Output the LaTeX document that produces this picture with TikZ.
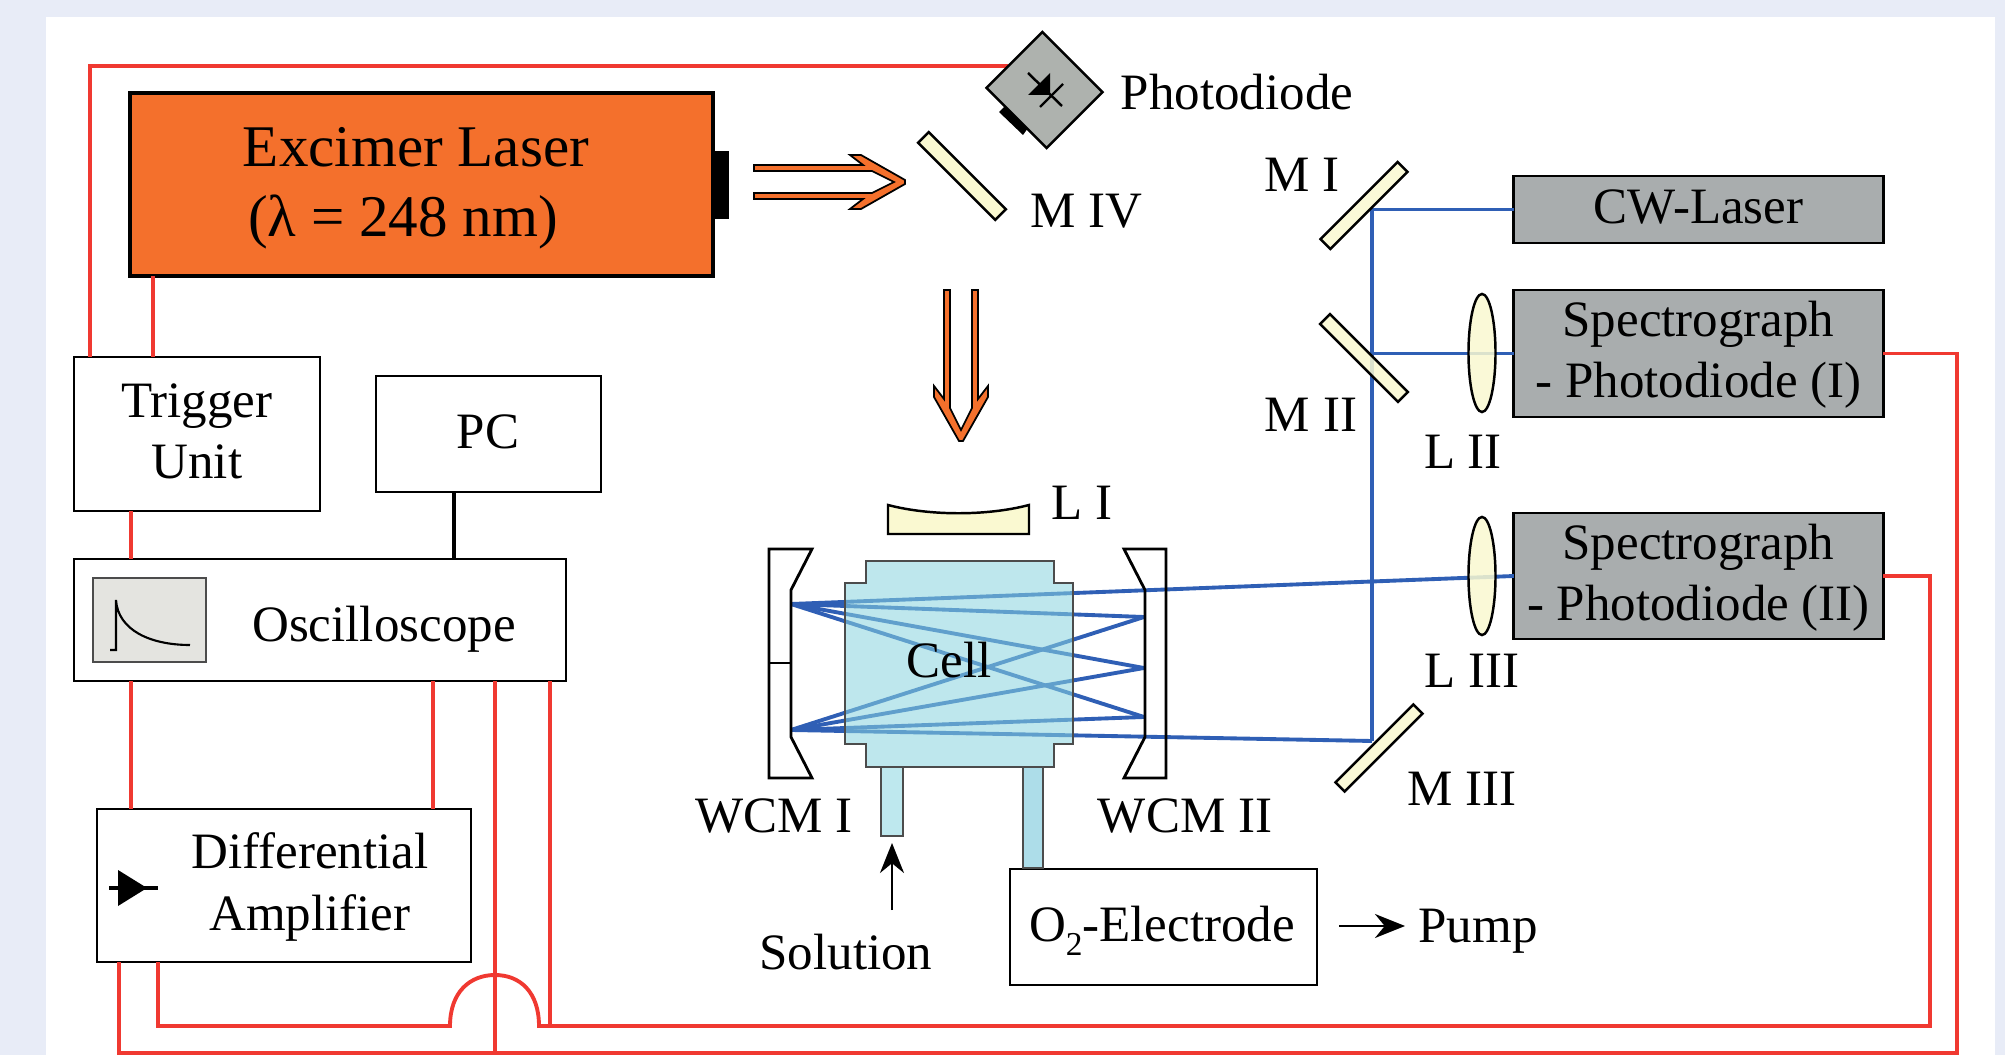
\documentclass[tikz,border=0pt]{standalone}
\usepackage{fontspec}
\setmainfont{Liberation Serif}
\usetikzlibrary{arrows.meta,shapes.geometric}
\definecolor{colbg}{rgb}{0.910, 0.925, 0.969}
\definecolor{collaser}{rgb}{0.957, 0.439, 0.173}
\definecolor{colgrey}{rgb}{0.663, 0.678, 0.682}
\definecolor{coldiode}{rgb}{0.682, 0.698, 0.682}
\definecolor{colscreen}{rgb}{0.894, 0.894, 0.878}
\definecolor{colwire}{rgb}{0.941, 0.224, 0.192}
\definecolor{colbeam}{rgb}{0.184, 0.373, 0.710}
\definecolor{colglass}{rgb}{0.980, 0.976, 0.820}
\definecolor{colcell}{rgb}{0.537, 0.835, 0.878}
\definecolor{coltube}{rgb}{0.678, 0.867, 0.914}
\tikzset{
  box/.style={draw,fill=white,line width=0.6pt,inner sep=0pt,outer sep=0pt,align=center,
    font=\fontsize{14.5}{17.4}\selectfont},
  greybox/.style={box,fill=colgrey,line width=0.8pt},
  txt/.style={inner sep=0pt,outer sep=0pt,align=center,font=\fontsize{14.5}{17.4}\selectfont},
  bigtxt/.style={inner sep=0pt,outer sep=0pt,font=\fontsize{16.8}{20}\selectfont},
  wire/.style={colwire,line width=1.1pt},
  beam/.style={colbeam,line width=1.1pt},
  mirror/.style={draw,fill=colglass,fill opacity=0.85,line width=0.7pt,inner sep=0pt,outer sep=0pt},
  lens/.style={ellipse,mirror,minimum width=0.27cm,minimum height=1.18cm},
  glass/.style={draw=black!70,line width=0.7pt},
  wcm/.style={draw,line width=0.8pt}
}
\newcommand{\beamarrow}{%
  \draw[fill=collaser,line width=0.5pt] (0,-17) -- (109,-17) -- (96,-27) -- (96,-27) -- (107,-27) -- (151,-2)
    -- (151,2) -- (107,27) -- (96,27) -- (109,17) -- (0,17) -- (0,11) -- (118,11) -- (140,0) -- (118,-11)
    -- (0,-11) -- cycle;}
\begin{document}
\begin{tikzpicture}[x=0.01cm,y=-0.01cm]
    \useasboundingbox (0,0) rectangle (2005,1055);
    \fill[colbg] (0,0) rectangle (2005,1055);
    \fill[white] (46,17) rectangle (1995,1055);
    % wire columns and rows
    \coordinate (cola) at (90,66);
    \coordinate (colb) at (131,1026);
    \coordinate (colc) at (153,0);
    \coordinate (cold) at (119,1053);
    \coordinate (cole) at (158,1026);
    \coordinate (colf) at (433,0);
    \coordinate (colg) at (495,1053);
    \coordinate (colh) at (550,1026);
    \coordinate (coli) at (1930,1026);
    \coordinate (colj) at (1957,1053);
    \coordinate (colk) at (454,0);
    \coordinate (pd) at (1008,66);
    \coordinate (beamx) at (1372,0);
    % boxes
    \node[draw,fill=collaser,line width=1.1pt,inner sep=0pt,outer sep=0pt,minimum width=5.83cm,minimum height=1.83cm] (laser) at (421.5,184.5) {};
    \node[bigtxt] (lasertop) at (416,147) {Excimer Laser};
    \node[bigtxt] (laserbot) at (403,222) {(λ = 248 nm)};
    \fill[black] (laser.east |- 0,151) rectangle (729,219);
    \node[box,minimum width=2.46cm,minimum height=1.54cm] (trigger) at (197,434) {};
    \node[txt] (triggertext) at (197,431) {Trigger\\Unit};
    \node[box,minimum width=2.25cm,minimum height=1.16cm] (pc) at (488.5,434) {};
    \node[txt] (pctext) at (488,432) {PC};
    \node[box,minimum width=4.92cm,minimum height=1.22cm] (osc) at (320,620) {};
    \node[txt] (osctext) at (384,629) {Oscilloscope};
    \node[draw=black!70,fill=colscreen,line width=0.6pt,inner sep=0pt,minimum width=1.13cm,minimum height=0.84cm] (screen) at (149.5,620) {};
    \draw[line width=0.6pt] (110,650) -- (116,650) -- (116,600) .. controls (118,630) and (150,645) .. (190,645);
    \node[box,minimum width=3.74cm,minimum height=1.53cm] (amp) at (284,885.5) {};
    \node[txt] (amptext) at (310,887) {Differential\\Amplifier};
    \fill[black] (118,870) -- (147,888) -- (118,906) -- cycle;
    \draw[line width=1pt] (109,888) -- (158,888);
    \node[greybox,minimum width=3.69cm,minimum height=0.67cm] (cw) at (1698.5,209.5) {};
    \node[txt] (cwtext) at (1698.5,207) {CW-Laser};
    \node[greybox,minimum width=3.69cm,minimum height=1.27cm] (spa) at (1698.5,353.5) {};
    \node[txt] (spatext) at (1698.5,355) {Spectrograph\\- Photodiode (I)};
    \node[greybox,minimum width=3.69cm,minimum height=1.26cm] (spb) at (1698.5,576) {};
    \node[txt] (spbtext) at (1698.5,578) {Spectrograph\\- Photodiode (II)};
    \node[box,minimum width=3.07cm,minimum height=1.16cm] (electrode) at (1163.5,927) {};
    \node[txt] (electrodetext) at (1162,931) {O\raisebox{-0.6ex}{\fontsize{9.5}{9.5}\selectfont 2}-Electrode};
    % red wiring
    \draw[wire] (laser.south -| colc) -- (trigger.north -| colc);
    \draw[wire] (trigger.north -| cola) -- (cola) -- (pd);
    \draw[wire] (trigger.south -| colb) -- (osc.north -| colb);
    \draw[wire] (osc.south -| colb) -- (amp.north -| colb);
    \draw[wire] (osc.south -| colf) -- (amp.north -| colf);
    \draw[wire] (osc.south -| colg) -- (colg);
    \draw[wire] (osc.south -| colh) -- (colh);
    \draw[wire] (amp.south -| cold) -- (cold) -- (colj) -- (spa.east -| colj) -- (spa.east);
    \draw[wire] (amp.south -| cole) -- (cole) -- (450,1026) .. controls (450,992) and (470,975) .. (495,975)
      .. controls (520,975) and (539,992) .. (539,1026) -- (coli) -- (spb.east -| coli) -- (spb.east);
    \draw[line width=1pt] (pc.south -| colk) -- (osc.north -| colk);
    % beams
    \coordinate (wa) at (791,604);
    \coordinate (wb) at (791,730);
    \coordinate (hita) at (1144,617);
    \coordinate (hitb) at (1144,668);
    \coordinate (hitc) at (1144,717);
    \coordinate (hitd) at (1372,741);
    \draw[beam] (beamx |- cw.west) -- (cw.west);
    \draw[beam] (beamx |- spa.west) -- (spa.west);
    \draw[beam] (beamx |- cw.west) -- (hitd);
    \draw[beam] (wa) -- (spb.west);
    \draw[beam] (wb) -- (hitd);
    \foreach \w in {wa,wb}
      \foreach \h in {hita,hitb,hitc}
        \draw[beam] (\w) -- (\h);
    % cell
    \draw[glass,fill=colcell,fill opacity=0.55] (866,561) -- (1054,561) -- (1054,583) -- (1073,583) -- (1073,744)
      -- (1054,744) -- (1054,767) -- (866,767) -- (866,744) -- (845,744) -- (845,583) -- (866,583) -- cycle;
    \node[txt] (cell) at (949,660) {Cell};
    \draw[glass,fill=colcell!55] (881,767) rectangle (903,836);
    \draw[glass,fill=coltube] (1023,767) rectangle (1043,868);
    % optics
    \draw[wcm] (769,549) -- (812,549) -- (791,590) -- (791,737) -- (812,778) -- (769,778) -- cycle;
    \draw[line width=0.6pt] (769,663) -- (791,663);
    \draw[wcm] (1124,549) -- (1166,549) -- (1166,778) -- (1124,778) -- (1145,737) -- (1145,590) -- cycle;
    \draw[mirror,fill opacity=1] (888,505) .. controls (930,516) and (987,516) .. (1029,505) -- (1029,534) -- (888,534) -- cycle;
    \node[mirror,rotate=45,minimum width=1.09cm,minimum height=0.14cm] (mi) at (1364,205.5) {};
    \node[mirror,rotate=-45,minimum width=1.10cm,minimum height=0.14cm] (mii) at (1364,358) {};
    \node[mirror,rotate=45,minimum width=1.10cm,minimum height=0.13cm] (miii) at (1379,748) {};
    \node[mirror,fill opacity=1,rotate=-45,minimum width=1.09cm,minimum height=0.15cm] (miv) at (962,176) {};
    \node[lens] (lensii) at (1482,353) {};
    \node[lens] (lensiii) at (1482,576) {};
    % photodiode
    \fill[black] (999,112) -- (1005,106) -- (1028,128) -- (1023,135) -- cycle;
    \node[draw,fill=coldiode,line width=0.7pt,inner sep=0pt,outer sep=0pt,rotate=-45,minimum width=0.85cm,minimum height=0.79cm] (diode) at (1044.5,90) {};
    \fill[black] (1050,73) -- (1050,95) -- (1028,95) -- cycle;
    \draw[line width=0.7pt] (1028,73) -- (1062,106);
    \draw[line width=0.7pt] (1040,107) -- (1063,84);
    % excimer beam
    \begin{scope}[shift={(754,182)}]
      \beamarrow
    \end{scope}
    \begin{scope}[shift={(961,290)},rotate=-90]
      \beamarrow
    \end{scope}
    % labels
    \node[txt] (photolabel) at (1237,92) {Photodiode};
    \node[txt] (mivlabel) at (1086,211) {M IV};
    \node[txt] (milabel) at (1302,175) {M I};
    \node[txt] (miilabel) at (1311,415) {M II};
    \node[txt] (miiilabel) at (1462,789) {M III};
    \node[txt] (lilabel) at (1082,503) {L I};
    \node[txt] (liilabel) at (1463,452) {L II};
    \node[txt] (liiilabel) at (1472,671) {L III};
    \node[txt] (wcmilabel) at (774,816) {WCM I};
    \node[txt] (wcmiilabel) at (1185,816) {WCM II};
    \node[txt] (solution) at (846,952) {Solution};
    \node[txt] (pump) at (1478,931) {Pump};
    \draw[-{Stealth[length=3mm,width=2.4mm]},line width=0.7pt] (892,910) -- (892,843);
    \draw[-{Stealth[length=3mm,width=2.4mm]},line width=0.7pt] (1339,926) -- (1405,926);
  \end{tikzpicture}
\end{document}
